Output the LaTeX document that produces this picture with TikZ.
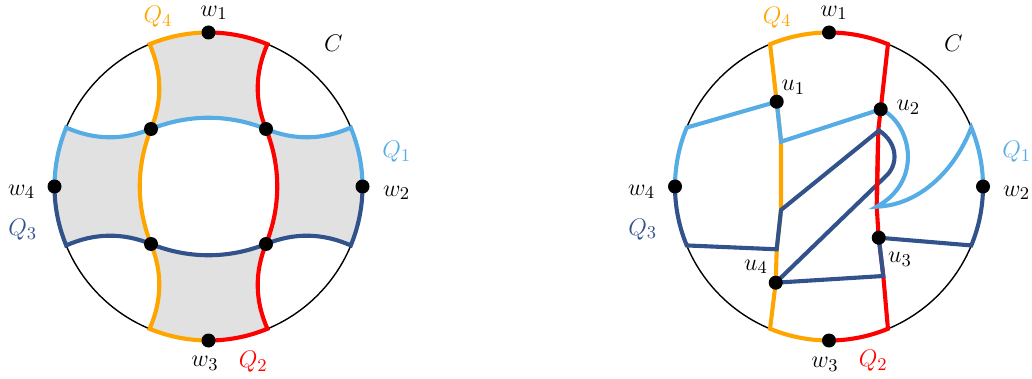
\documentclass[tikz,border=0pt]{standalone}
\usetikzlibrary{calc}
\definecolor{qorange}{RGB}{255,165,0}
\definecolor{qred}{RGB}{255,0,0}
\definecolor{qlblue}{RGB}{86,172,228}
\definecolor{qdblue}{RGB}{50,82,140}
\definecolor{qgrey}{RGB}{225,225,225}
\begin{document}
\begin{tikzpicture}[x=0.5pt,y=-0.5pt,
  qline/.style={line width=2.05pt},
  rim/.style={line width=0.7pt},
  dot/.style={circle,fill=black,inner sep=0pt,minimum size=7pt},
  lbl/.style={font=\fontsize{13}{15}\selectfont,inner sep=0pt}]
\useasboundingbox (0,0) rectangle (1032,379);

% ---------------- left circle ----------------
\begin{scope}[shift={(208.5,186.5)}]
\coordinate (Lc) at (0,0);
\coordinate (Lw1) at (-90:154);
\coordinate (Lw2) at (0:154);
\coordinate (Lw3) at (90:154);
\coordinate (Lw4) at (180:154);
\coordinate (LA1) at (-112.5:154);
\coordinate (LA2) at (-67.5:154);
\coordinate (LB1) at (-22.5:154);
\coordinate (LB2) at (22.5:154);
\coordinate (LD1) at (67.5:154);
\coordinate (LD2) at (112.5:154);
\coordinate (LE1) at (157.5:154);
\coordinate (LE2) at (-157.5:154);
\coordinate (Ltl) at (-57.5,-57.5);
\coordinate (Ltr) at (57.5,-57.5);
\coordinate (Lbr) at (57.5,57.5);
\coordinate (Lbl) at (-57.5,57.5);

\fill[qgrey,even odd rule] (LA1) arc[start angle=-112.5,end angle=-67.5,radius=154]
  .. controls (46.4,-114) and (46,-86) .. (Ltr)
  .. controls (86,-46) and (114,-46.4) .. (LB1)
  arc[start angle=-22.5,end angle=22.5,radius=154]
  .. controls (114,46.4) and (86,46) .. (Lbr)
  .. controls (46,86) and (46.4,114) .. (LD1)
  arc[start angle=67.5,end angle=112.5,radius=154]
  .. controls (-46.4,114) and (-46,86) .. (Lbl)
  .. controls (-86,46) and (-114,46.4) .. (LE1)
  arc[start angle=157.5,end angle=202.5,radius=154]
  .. controls (-114,-46.4) and (-86,-46) .. (Ltl)
  .. controls (-46,-86) and (-46.4,-114) .. (LA1) -- cycle
  (Ltl) .. controls (-20,-72.5) and (20,-72.5) .. (Ltr)
  .. controls (72.5,-20) and (72.5,20) .. (Lbr)
  .. controls (20,72.5) and (-20,72.5) .. (Lbl)
  .. controls (-72.5,20) and (-72.5,-20) .. (Ltl) -- cycle;

\draw[rim] (Lc) circle[radius=154];

\draw[qline,qorange] (Lw1) arc[start angle=-90,end angle=-112.5,radius=154]
  .. controls (-46.4,-114) and (-46,-86) .. (Ltl)
  .. controls (-72.5,-20) and (-72.5,20) .. (Lbl)
  .. controls (-46,86) and (-46.4,114) .. (LD2)
  arc[start angle=112.5,end angle=90,radius=154];
\draw[qline,qred] (Lw1) arc[start angle=-90,end angle=-67.5,radius=154]
  .. controls (46.4,-114) and (46,-86) .. (Ltr)
  .. controls (72.5,-20) and (72.5,20) .. (Lbr)
  .. controls (46,86) and (46.4,114) .. (LD1)
  arc[start angle=67.5,end angle=90,radius=154];
\draw[qline,qlblue] (Lw4) arc[start angle=180,end angle=202.5,radius=154]
  .. controls (-114,-46.4) and (-86,-46) .. (Ltl)
  .. controls (-20,-72.5) and (20,-72.5) .. (Ltr)
  .. controls (86,-46) and (114,-46.4) .. (LB1)
  arc[start angle=-22.5,end angle=0,radius=154];
\draw[qline,qdblue] (Lw4) arc[start angle=180,end angle=157.5,radius=154]
  .. controls (-114,46.4) and (-86,46) .. (Lbl)
  .. controls (-20,72.5) and (20,72.5) .. (Lbr)
  .. controls (86,46) and (114,46.4) .. (LB2)
  arc[start angle=22.5,end angle=0,radius=154];

\foreach \p in {Lw1,Lw2,Lw3,Lw4,Ltl,Ltr,Lbr,Lbl} \node[dot] (d\p) at (\p) {};

\node[lbl,text=qorange] (LQ4) at (-50.5,-169.8) {$Q_4$};
\node[lbl] (Llw1) at (5.5,-173.5) {$w_1$};
\node[lbl] (LlC) at (124.8,-143.2) {$C$};
\node[lbl,text=qlblue] (LQ1) at (188.2,-34.8) {$Q_1$};
\node[lbl] (Llw2) at (188.2,6.2) {$w_2$};
\node[lbl] (Llw4) at (-186.8,5.2) {$w_4$};
\node[lbl,text=qdblue] (LQ3) at (-185.8,43.5) {$Q_3$};
\node[lbl] (Llw3) at (-3.5,176.8) {$w_3$};
\node[lbl,text=qred] (LQ2) at (44.8,175.2) {$Q_2$};
\end{scope}

% ---------------- right circle ----------------
\begin{scope}[shift={(829,186.5)}]
\coordinate (Rc) at (0,0);
\coordinate (Rw1) at (-90:154);
\coordinate (Rw2) at (0:154);
\coordinate (Rw3) at (90:154);
\coordinate (Rw4) at (180:154);
\coordinate (RA1) at (-112.5:154);
\coordinate (RA2) at (-67.5:154);
\coordinate (RB1) at (-22.5:154);
\coordinate (RB2) at (22.5:154);
\coordinate (RD1) at (67.5:154);
\coordinate (RD2) at (112.5:154);
\coordinate (RE1) at (157.5:154);
\coordinate (RE2) at (-157.5:154);
\coordinate (Ru1) at (-52.3,-84.8);
\coordinate (Ro2) at (-48,-44.8);
\coordinate (Ro3) at (-48,23.5);
\coordinate (Ro4) at (-52.3,62.8);
\coordinate (Ru4) at (-53.3,96.2);
\coordinate (Ru2) at (51.7,-77.2);
\coordinate (Rr2) at (49.3,-56.5);
\coordinate (Rr3) at (47.7,20.2);
\coordinate (Ru3) at (49.7,51.2);
\coordinate (Rr5) at (54.3,89.5);
\coordinate (Rd1) at (50,-56);
\coordinate (Rd2) at (56,-9.5);

\draw[rim] (Rc) circle[radius=154];

\draw[qline,qorange] (Rw1) arc[start angle=-90,end angle=-112.5,radius=154]
  -- (Ru1) -- (Ro2) -- (Ro3) -- (Ro4) -- (Ru4) -- (RD2)
  arc[start angle=112.5,end angle=90,radius=154];
\draw[qline,qred] (Rw1) arc[start angle=-90,end angle=-67.5,radius=154]
  -- (Ru2) -- (Rr2) -- (Rr3) -- (Ru3) -- (Rr5) -- (RD1)
  arc[start angle=67.5,end angle=90,radius=154];
\draw[qline,qlblue] (Rw4) arc[start angle=180,end angle=202.5,radius=154]
  -- (Ru1) -- (Ro2) -- (Ru2)
  .. controls (81,-64.5) and (96,-6.5) .. (Rr3)
  .. controls (91,18.5) and (126,-16.5) .. (RB1)
  arc[start angle=-22.5,end angle=0,radius=154];
\draw[qline,qdblue] (Rw4) arc[start angle=180,end angle=157.5,radius=154]
  -- (Ro4) -- (Ro3) -- (Rd1)
  .. controls (69,-43.5) and (70,-21.5) .. (Rd2)
  -- (Ru4) -- (Rr5) -- (Ru3) -- (RB2)
  arc[start angle=22.5,end angle=0,radius=154];
\draw[qline,qred] ($(Rr2)!0.2!(Rr3)$) -- ($(Rr2)!0.9!(Rr3)$);

\foreach \p in {Rw1,Rw2,Rw3,Rw4,Ru1,Ru2,Ru3,Ru4} \node[dot] (d\p) at (\p) {};

\node[lbl,text=qorange] (RQ4) at (-51.7,-169.2) {$Q_4$};
\node[lbl] (Rlw1) at (5,-173.5) {$w_1$};
\node[lbl] (RlC) at (124.3,-143.2) {$C$};
\node[lbl] (Rlu1) at (-35.7,-99.2) {$u_1$};
\node[lbl] (Rlu2) at (79.3,-79.2) {$u_2$};
\node[lbl,text=qlblue] (RQ1) at (187.7,-34.8) {$Q_1$};
\node[lbl] (Rlw2) at (187.7,6.2) {$w_2$};
\node[lbl] (Rlw4) at (-187.3,5.2) {$w_4$};
\node[lbl,text=qdblue] (RQ3) at (-186.3,42.8) {$Q_3$};
\node[lbl] (Rlu3) at (71,72.8) {$u_3$};
\node[lbl] (Rlu4) at (-73,80.2) {$u_4$};
\node[lbl] (Rlw3) at (-4,177.8) {$w_3$};
\node[lbl,text=qred] (RQ2) at (44.3,174.5) {$Q_2$};
\end{scope}
\end{tikzpicture}
\end{document}
